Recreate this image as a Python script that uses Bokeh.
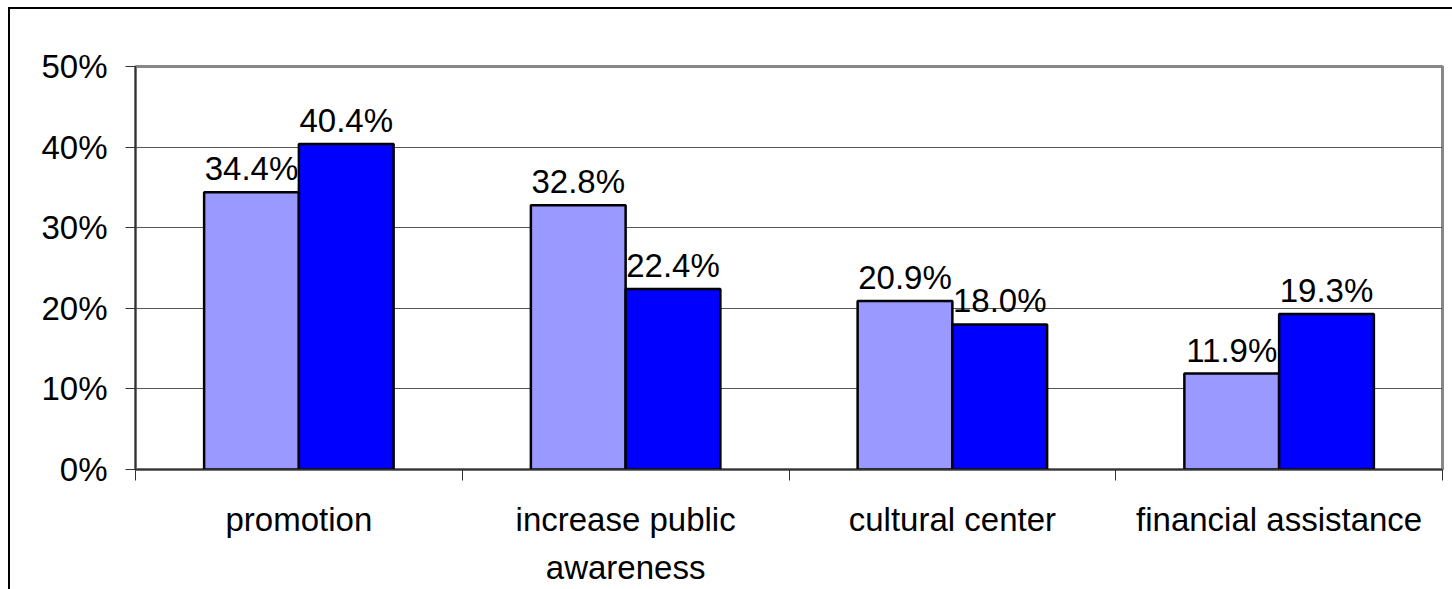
from bokeh.plotting import figure
from bokeh.models import (ColumnDataSource, FixedTicker, LinearAxis, Range1d,
                          InlineStyleSheet)
from bokeh.embed import file_html
from bokeh.resources import INLINE
from bokeh.core.properties import value

categories = ["promotion", "increase public\nawareness", "cultural center", "financial assistance"]
series_a = [0.344, 0.328, 0.209, 0.119]
series_b = [0.404, 0.224, 0.180, 0.193]
y_ticks = [0, 0.1, 0.2, 0.3, 0.4, 0.5]
y_tick_labels = ["0%", "10%", "20%", "30%", "40%", "50%"]

FONT = "Liberation Sans"
FS = "33px"
BAR_W = 0.29

centers = [i + 0.5 for i in range(len(categories))]
src_a = ColumnDataSource(dict(x=[c - BAR_W / 2 for c in centers], top=series_a,
                              lab=["%.1f%%" % (v * 100) for v in series_a]))
src_b = ColumnDataSource(dict(x=[c + BAR_W / 2 for c in centers], top=series_b,
                              lab=["%.1f%%" % (v * 100) for v in series_b]))

css = InlineStyleSheet(css="""
:host { position: relative; }
:host::after {
  content: ""; position: absolute; left: 8px; top: 7px; right: 0px; bottom: 0px;
  border-top: 2px solid black; border-left: 2px solid black;
  pointer-events: none; box-sizing: border-box;
}
""")

p = figure(width=1452, height=589, output_backend="svg", toolbar_location=None,
           x_range=Range1d(0, len(categories)), y_range=Range1d(0, 0.5),
           min_border_left=135, min_border_right=10, min_border_top=66,
           min_border_bottom=120, x_axis_location=None, y_axis_location=None,
           stylesheets=[css])
p.background_fill_color = "white"
p.border_fill_color = "white"
p.outline_line_color = "#888888"
p.outline_line_width = 3

p.vbar(x="x", top="top", width=BAR_W, bottom=0, source=src_a,
       fill_color="#9999FF", line_color="black", line_width=2.5)
p.vbar(x="x", top="top", width=BAR_W, bottom=0, source=src_b,
       fill_color="#0000FF", line_color="black", line_width=2.5)

for s in (src_a, src_b):
    p.text(x="x", y="top", text="lab", source=s, text_align="center",
           text_baseline="bottom", y_offset=-5, text_font=value(FONT),
           text_font_size=FS, text_color="black")

yax = LinearAxis(ticker=FixedTicker(ticks=y_ticks, minor_ticks=[]))
yax.major_label_overrides = {t: l for t, l in zip(y_ticks, y_tick_labels)}
yax.major_label_text_font = FONT
yax.major_label_text_font_size = FS
yax.major_label_text_color = "black"
yax.major_tick_out = 10
yax.major_tick_in = 0
yax.major_tick_line_color = "#333333"
yax.axis_line_color = "#333333"
yax.axis_line_width = 1.5
yax.major_label_standoff = 18
p.add_layout(yax, "left")

xax = LinearAxis(ticker=FixedTicker(ticks=centers, minor_ticks=list(range(len(categories) + 1))))
xax.major_label_overrides = {c: l for c, l in zip(centers, categories)}
xax.major_label_text_font = FONT
xax.major_label_text_font_size = FS
xax.major_label_text_color = "black"
xax.major_label_text_line_height = 1.3
xax.major_tick_out = 0
xax.major_tick_in = 0
xax.minor_tick_out = 11
xax.minor_tick_in = 0
xax.minor_tick_line_color = "#333333"
xax.axis_line_color = "#333333"
xax.axis_line_width = 1.5
xax.major_label_standoff = 20
p.add_layout(xax, "below")

p.xgrid.visible = False
p.ygrid.ticker = FixedTicker(ticks=y_ticks)
p.ygrid.grid_line_color = "#555555"
p.ygrid.grid_line_width = 1

open("out.html", "w").write(file_html(p, INLINE))
